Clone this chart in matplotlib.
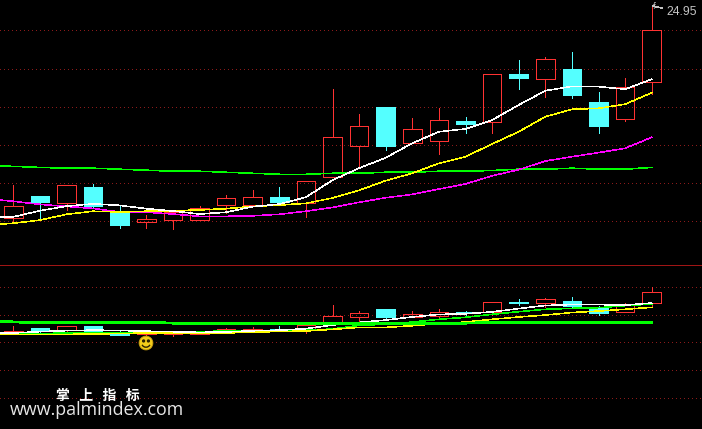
import matplotlib
matplotlib.use("Agg")
import matplotlib.pyplot as plt
from matplotlib.patches import Arc, Circle, Rectangle

plt.rcParams["lines.antialiased"] = False
plt.rcParams["patch.antialiased"] = False

opens = [16.65, 17.50, 17.23, 17.85, 16.88, 16.49, 16.57, 16.57, 17.16, 17.16, 17.46, 17.23, 18.23,
         19.47, 21.00, 19.59, 19.67, 20.44, 20.42, 22.29, 22.10, 22.48, 21.19, 20.53, 21.99]
closes = [17.10, 17.26, 17.92, 17.12, 16.36, 16.58, 16.87, 17.01, 17.41, 17.45, 17.27, 18.07, 19.80,
          20.23, 19.47, 20.12, 20.47, 20.32, 22.28, 22.13, 22.87, 21.46, 20.24, 21.77, 24.00]
highs = [17.93, 17.50, 17.92, 17.96, 17.10, 16.74, 16.91, 17.10, 17.54, 17.73, 17.85, 18.07, 21.70,
         20.72, 21.00, 20.56, 20.95, 20.60, 22.28, 22.84, 22.97, 23.16, 21.57, 22.13, 24.95]
lows = [16.44, 16.57, 16.95, 17.07, 16.24, 16.24, 16.20, 16.57, 16.83, 17.16, 17.14, 16.67, 18.23,
        18.59, 19.32, 19.59, 19.15, 19.98, 19.97, 21.70, 21.38, 21.35, 19.97, 20.45, 21.51]

# first value of each line is where it enters at the left edge
ma5 = [16.67, 16.68, 16.92, 17.10, 17.19, 17.13, 17.00, 16.91, 16.79, 16.86, 17.08, 17.18, 17.45,
       18.12, 18.59, 19.00, 19.57, 20.02, 20.13, 20.48, 21.07, 21.63, 21.80, 21.79, 21.69, 22.08]
ma10 = [16.39, 16.43, 16.55, 16.78, 16.90, 16.87, 16.90, 16.92, 16.95, 17.00, 17.09, 17.14, 17.21,
        17.42, 17.72, 18.10, 18.39, 18.78, 19.04, 19.54, 20.02, 20.61, 20.90, 20.94, 21.10, 21.55]
ma20 = [17.34, 17.29, 17.17, 17.09, 17.01, 16.87, 16.86, 16.79, 16.70, 16.70, 16.72, 16.78, 16.90,
        17.05, 17.25, 17.43, 17.56, 17.77, 17.97, 18.29, 18.53, 18.87, 19.04, 19.20, 19.37, 19.80]
ma60 = [18.68, 18.66, 18.62, 18.59, 18.59, 18.55, 18.51, 18.47, 18.47, 18.43, 18.39, 18.35, 18.35,
        18.39, 18.39, 18.43, 18.43, 18.47, 18.47, 18.50, 18.55, 18.55, 18.59, 18.55, 18.55, 18.62]
low_yellow = [16.43, 16.43, 16.43, 16.43, 16.49, 16.58, 16.67, 16.67, 16.61, 16.67, 16.85, 16.94, 17.03,
              17.33, 17.69, 17.69, 17.98, 18.38, 18.65, 19.14, 19.55, 19.91, 20.36, 20.63, 20.94, 21.30]
low_green = [16.43, 16.49, 16.58, 16.67, 16.76, 16.79, 16.79, 16.85, 16.94, 17.03, 17.03, 16.97, 17.21,
             17.39, 18.06, 18.24, 18.65, 19.14, 19.50, 20.04, 20.51, 20.94, 21.12, 21.23, 21.59, 21.89]

grid_top = [24, 22.5, 21, 19.5, 18, 16.5]
grid_low = [25, 20, 15, 10, 5]

RED = "#ff3232"
CYAN = "#54ffff"
GRID = "#8b1a1a"
THIN = 0.72
MA_W = 0.4

idx = list(range(len(opens)))
line_x = [-0.5] + idx

fig = plt.figure(figsize=(7.02, 4.29), dpi=100, facecolor="black")
ax1 = fig.add_axes([0, 1 - 265 / 429, 1, 265 / 429], facecolor="black")
ax2 = fig.add_axes([0, 0, 1, 164 / 429], facecolor="black")


def candles(ax):
    for i in idx:
        up = closes[i] >= opens[i]
        col = RED if up else CYAN
        top = max(opens[i], closes[i])
        bot = min(opens[i], closes[i])
        ax.plot([i, i], [top, highs[i]], color=col, lw=THIN, zorder=2, solid_capstyle="butt")
        ax.plot([i, i], [lows[i], bot], color=col, lw=THIN, zorder=2, solid_capstyle="butt")
        ax.add_patch(Rectangle((i - 0.35, bot), 0.7, top - bot, facecolor="none" if up else col,
                               edgecolor=col, lw=THIN, zorder=2))


for ax in (ax1, ax2):
    ax.set_xlim(-0.5, 25.89)
    ax.set_axis_off()

ax1.set_ylim(14.79, 25.19)
ax2.set_ylim(-0.61, 28.92)

for g in grid_top:
    ax1.axhline(g, color=GRID, lw=0.72, ls=(0, (1, 3)), zorder=1)
for g in grid_low:
    ax2.axhline(g, color=GRID, lw=0.72, ls=(0, (1, 3)), zorder=1)

candles(ax1)
ax1.plot(line_x, ma60, color="#00ff00", lw=MA_W, zorder=3)
ax1.plot(line_x, ma20, color="#ff00ff", lw=MA_W, zorder=3)
ax1.plot(line_x, ma10, color="#ffff00", lw=MA_W, zorder=3)
ax1.plot(line_x, ma5, color="white", lw=MA_W, zorder=3)

candles(ax2)
ax2.plot(line_x, low_green, color="#00ff00", lw=MA_W, zorder=3)
ax2.plot(line_x, low_yellow, color="#ffff00", lw=MA_W, zorder=3)
ax2.plot(line_x, ma5, color="white", lw=MA_W, zorder=3)
ax2.plot(line_x, ma60, color="#00ff00", lw=1.4, zorder=4)

# divider between the two panels
fig.add_artist(plt.Line2D([0, 1], [1 - 265 / 429] * 2, color="#a01515", lw=THIN))

# peak price label
ax1.annotate("24.95", xy=(24.05, 24.95), xytext=(666, 417), textcoords="figure pixels",
             color="#c4c4c4", fontsize=8.8, family="Liberation Sans", va="center", ha="left",
             arrowprops=dict(arrowstyle="-", color="#c4c4c4", lw=0.5, shrinkA=1, shrinkB=0))
ax1.text(24.03, 24.95, "f", color="#c4c4c4", fontsize=5.5, va="center", ha="left", zorder=5)

# smiley
sm = fig.add_axes([138 / 702, 1 - 351 / 429, 16 / 702, 16 / 429])
sm.set_xlim(-1.1, 1.1)
sm.set_ylim(-1.1, 1.1)
sm.set_axis_off()
sm.add_patch(Circle((0, 0), 0.95, facecolor="#f2cc1a", edgecolor="#c49a10", lw=0.6, antialiased=True))
sm.add_patch(Circle((-0.33, 0.28), 0.13, color="#2a2000", antialiased=True))
sm.add_patch(Circle((0.33, 0.28), 0.13, color="#2a2000", antialiased=True))
sm.add_patch(Arc((0, -0.05), 1.15, 1.05, theta1=200, theta2=340, color="#2a2000", lw=1.0, antialiased=True))

fig.text(98 / 702, 1 - 395.5 / 429, "掌   上   指   标", color="white", fontsize=10, fontweight="bold",
         family=["Noto Sans CJK SC", "DejaVu Sans"], ha="center", va="center")
fig.text(10 / 702, 1 - 410 / 429, "www.palmindex.com", color="#e6e6e6", fontsize=12.9,
         family="Open Sans", ha="left", va="center")

fig.savefig("out.png", dpi=100, facecolor="black")
